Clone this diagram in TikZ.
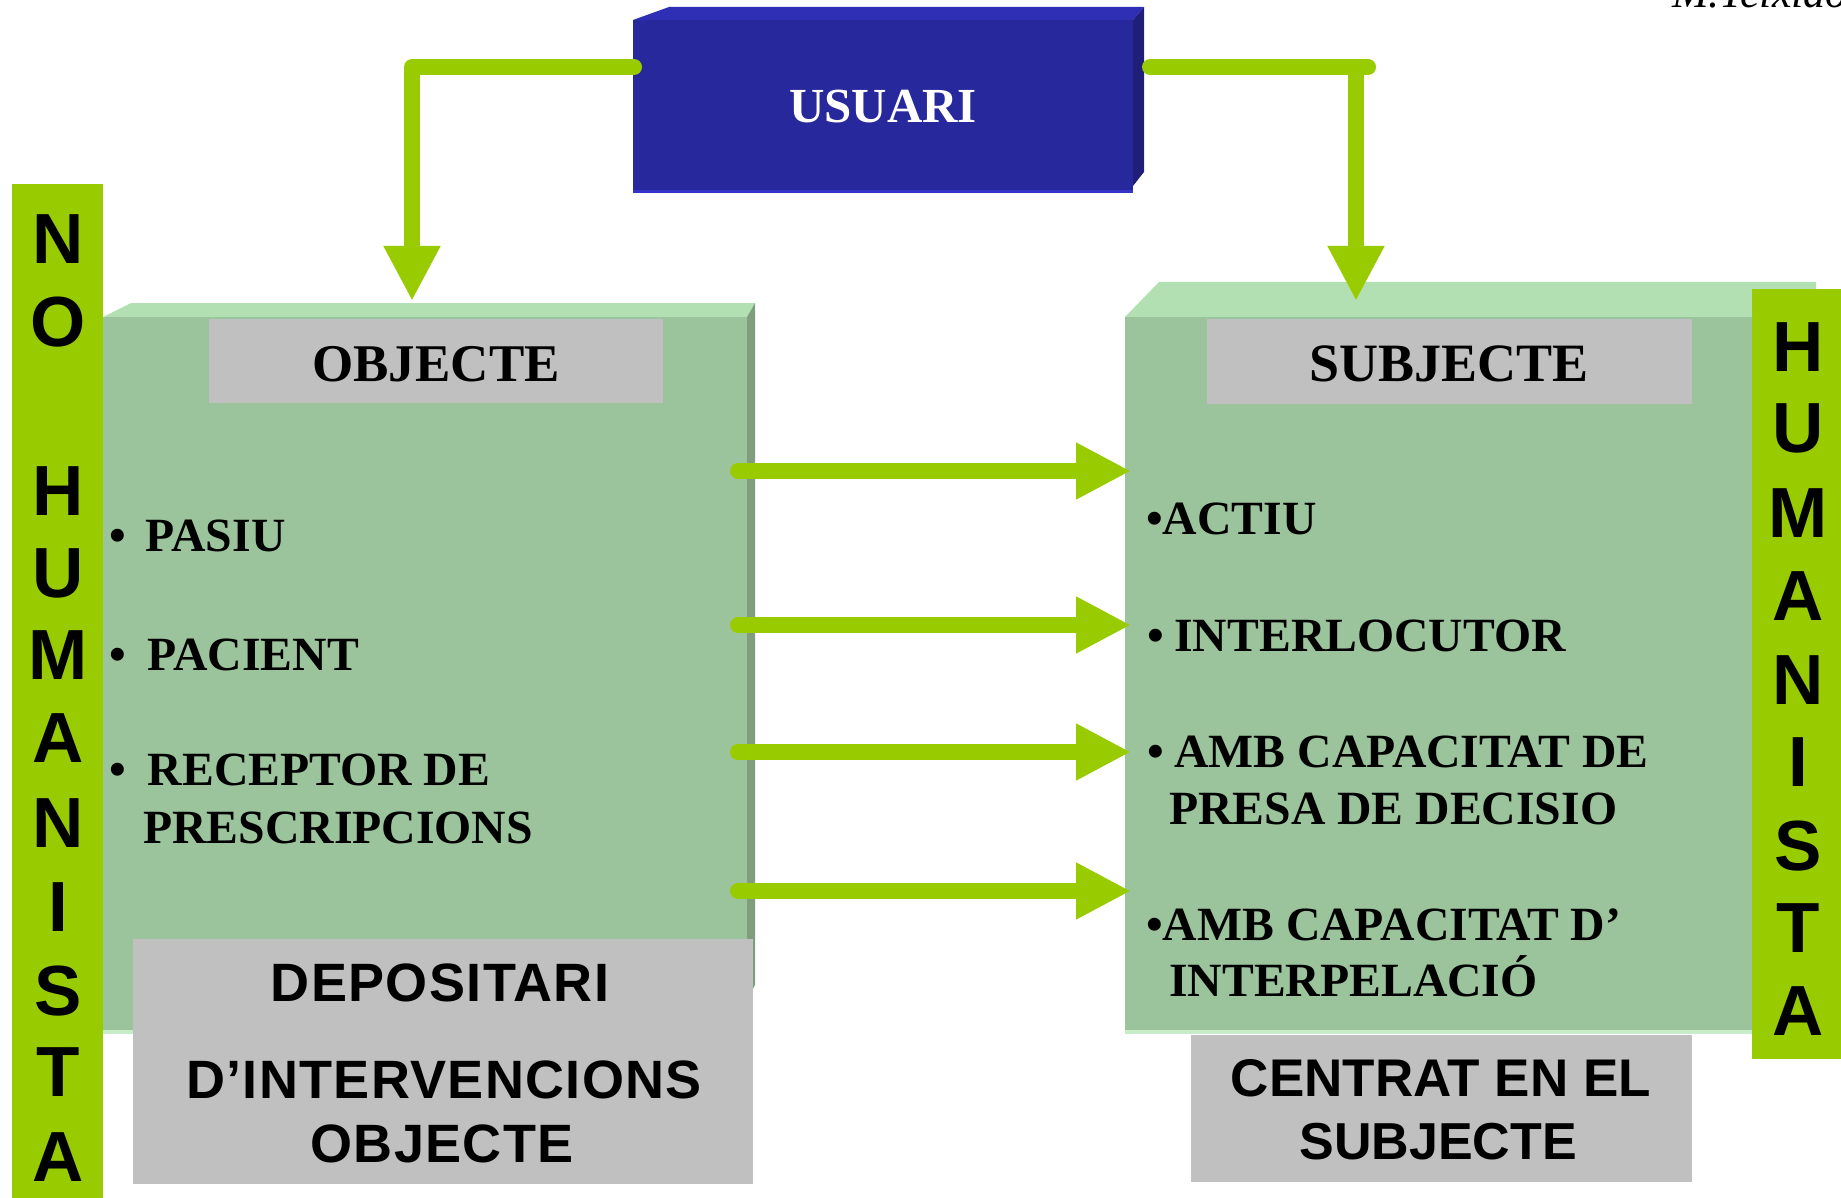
\documentclass[tikz,border=0pt]{standalone}
\usepackage{fontspec}
\setmainfont{Liberation Serif}
\newfontfamily\ari{Liberation Sans}
\newfontfamily\arisp[LetterSpace=2.5]{Liberation Sans}
\usetikzlibrary{arrows.meta}
\definecolor{limeg}{RGB}{153,204,0}
\definecolor{gfront}{RGB}{156,196,156}
\definecolor{gtop}{RGB}{179,224,179}
\definecolor{gside}{RGB}{126,158,126}
\definecolor{glow}{RGB}{200,235,200}
\definecolor{greyb}{RGB}{192,192,192}
\definecolor{bfront}{RGB}{39,40,155}
\definecolor{btop}{RGB}{47,47,181}
\definecolor{bside}{RGB}{31,31,122}
\definecolor{bedge}{RGB}{52,52,200}
\begin{document}
\begin{tikzpicture}[x=1pt,y=-1pt,
  gbox/.style={rectangle, inner sep=0pt, outer sep=0pt, draw=none},
  conn/.style={draw=limeg, line width=16pt, line cap=round, line join=round, -{Triangle[length=55pt,width=53pt]}},
  item/.style={anchor=base west, inner sep=0pt, font=\fontsize{47.7}{56}\selectfont\bfseries},
  head/.style={anchor=base, inner sep=0pt, font=\fontsize{54}{64}\selectfont\bfseries},
  sanst/.style={anchor=base, inner sep=0pt, font=\ari\fontsize{54}{64}\selectfont\bfseries},
  sansw/.style={anchor=base, inner sep=0pt, font=\arisp\fontsize{54}{64}\selectfont\bfseries},
  barl/.style={anchor=base, inner sep=0pt, font=\ari\fontsize{71}{80}\selectfont\bfseries},
]
\useasboundingbox (0,0) rectangle (1841,1198);
\clip (0,0) rectangle (1841,1198);

% ---- left green box (OBJECTE)
\fill[gtop] (103,317) -- (131,303) -- (755,303) -- (747,317) -- cycle;
\fill[gside] (747,317) -- (755,303) -- (755,985) -- (747,1000) -- cycle;
\node[gbox, fill=gfront, minimum width=644pt, minimum height=714pt] (objbox) at (425,674) {};
\draw[glow, line width=4pt] (103,1032) -- (747,1032);

% ---- right green box (SUBJECTE)
\fill[gtop] (1125,317) -- (1159,282) -- (1816,282) -- (1816,317) -- cycle;
\node[gbox, fill=gfront, minimum width=691pt, minimum height=714pt] (subjbox) at (1470.5,674) {};
\draw[glow, line width=4pt] (1125,1032) -- (1816,1032);

% ---- grey title labels
\node[gbox, fill=greyb, minimum width=454pt, minimum height=84pt] (objlbl) at (436,361) {};
\node[head] at (436,381) {\fontsize{53}{64}\selectfont OBJECTE};
\node[gbox, fill=greyb, minimum width=485pt, minimum height=85pt] (subjlbl) at (1449.5,361.5) {};
\node[head] at (1449,381) {SUBJECTE};

% ---- bottom grey boxes
\node[gbox, fill=greyb, minimum width=620pt, minimum height=245pt] (dep) at (443,1061.5) {};
\node[sansw] at (440,1001) {DEPOSITARI};
\node[sansw] at (444,1098) {D’INTERVENCIONS};
\node[sansw] at (442,1162) {OBJECTE};
\node[gbox, fill=greyb, minimum width=501pt, minimum height=147pt] (cent) at (1441.5,1108.5) {};
\node[sanst] at (1441,1096) {\fontsize{53}{64}\selectfont CENTRAT EN EL};
\node[sanst] at (1438,1159) {\fontsize{52}{64}\selectfont SUBJECTE};

% ---- side bars
\node[gbox, fill=limeg, minimum width=91pt, minimum height=1020pt] (nobar) at (57.5,694) {};
\foreach \ch/\yy in {N/264, O/346, H/515, U/597, M/679, A/762, N/847, I/931, S/1015, T/1096, A/1181}
  \node[barl] at (58,\yy) {\ch};
\node[gbox, fill=limeg, minimum width=89pt, minimum height=770pt] (hbar) at (1796.5,674) {};
\foreach \ch/\yy in {H/371, U/452, M/537, A/620, N/704, I/786, S/870, T/952, A/1035}
  \node[barl] at (1798,\yy) {\ch};

% ---- USUARI box
\fill[btop] (633,20) -- (669,7) -- (1144,7) -- (1133,20) -- cycle;
\fill[bside] (1133,20) -- (1144,7) -- (1144,172) -- (1133,186) -- cycle;
\node[gbox, fill=bfront, minimum width=500pt, minimum height=173pt, text=white,
      font=\fontsize{49}{58}\selectfont\bfseries] (usuari) at (883,106.5) {USUARI};
\draw[bedge, line width=3pt] (633,191.5) -- (1133,191.5);

% ---- connectors
\coordinate (uL) at (634,67);
\coordinate (uR) at (1150,67);
\coordinate (tipL) at (412,301);
\coordinate (tipR) at (1356,301);
\draw[conn] (uL) -| (tipL);
\draw[conn] (uR) -| (tipR);
\draw[limeg, line width=16pt, line cap=round] (tipR |- uR) -- ++(12,0);

\foreach \yy [count=\k] in {471,625,752,891} {
  \coordinate (s\k) at (738,\yy);
  \draw[conn] (s\k) -- ([xshift=6pt]s\k -| subjbox.west);
}

% ---- items
\node[item] at (109,551) {•\hspace{20pt}PASIU};
\node[item] at (109,670) {•\hspace{22pt}PACIENT};
\node[item] at (109,785) {•\hspace{22pt}RECEPTOR DE};
\node[item] at (143,843) {PRESCRIPCIONS};

\node[item] at (1146,534) {•ACTIU};
\node[item] at (1147,651) {•\hspace{10.5pt}INTERLOCUTOR};
\node[item] at (1147,767) {•\hspace{10.5pt}AMB CAPACITAT DE};
\node[item] at (1169,824) {PRESA DE DECISIO};
\node[item] at (1146,940) {•AMB CAPACITAT D’};
\node[item] at (1169,996) {INTERPELACIÓ};

% ---- author (cut off at the top edge, as in the reference)
\node[anchor=base west, inner sep=0pt, font=\fontsize{44}{50}\selectfont\itshape] (auth) at (1672,8) {M.Teixido};
\end{tikzpicture}
\end{document}
